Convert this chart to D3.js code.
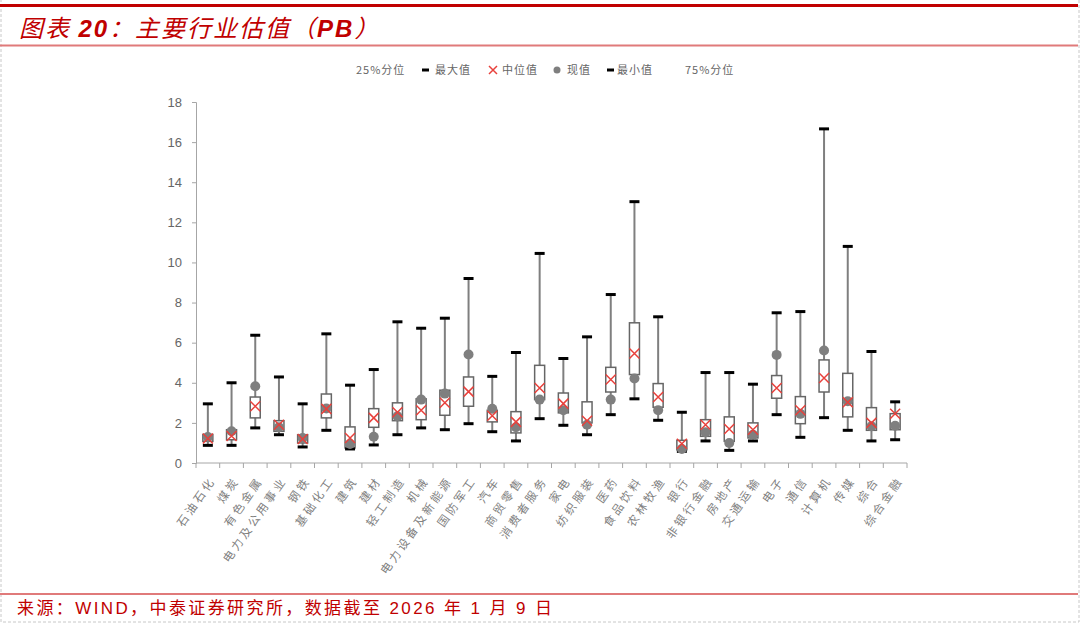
<!DOCTYPE html>
<html>
<head>
<meta charset="utf-8">
<script src="https://cdn.jsdelivr.net/npm/d3@7"></script>
<style>
    body { margin: 0; background: #fff; }
    svg { display: block; }
</style>
</head>
<body>
<svg id="drawing_region"></svg>
<script>
const categories = ['石油石化','煤炭','有色金属','电力及公用事业','钢铁','基础化工','建筑','建材','轻工制造','机械',
    '电力设备及新能源','国防军工','汽车','商贸零售','消费者服务','家电','纺织服装','医药','食品饮料','农林牧渔',
    '银行','非银行金融','房地产','交通运输','电子','通信','计算机','传媒','综合','综合金融'];

const maxVals     = [2.95, 4.00, 6.37, 4.29, 2.95, 6.44, 3.88, 4.66, 7.04, 6.72,
                     7.22, 9.20, 4.32, 5.51, 10.45, 5.21, 6.29, 8.40, 13.03, 7.29,
                     2.53, 4.51, 4.51, 3.93, 7.49, 7.55, 16.66, 10.80, 5.56, 3.05];
const q3Vals      = [1.42, 1.66, 3.29, 2.11, 1.41, 3.44, 1.80, 2.71, 3.00, 3.20,
                     3.63, 4.29, 2.63, 2.56, 4.87, 3.49, 3.05, 4.77, 6.99, 3.96,
                     1.13, 2.16, 2.30, 2.00, 4.36, 3.31, 5.14, 4.47, 2.76, 2.46];
const medianVals  = [1.22, 1.35, 2.83, 1.91, 1.20, 2.70, 1.25, 2.25, 2.53, 2.63,
                     3.00, 3.56, 2.36, 2.05, 3.74, 2.96, 2.11, 4.16, 5.46, 3.29,
                     0.96, 1.91, 1.70, 1.66, 3.74, 2.63, 4.24, 3.03, 2.00, 2.46];
const q1Vals      = [1.08, 1.16, 2.25, 1.58, 1.00, 2.25, 0.75, 1.78, 2.11, 2.16,
                     2.38, 2.83, 2.05, 1.50, 3.16, 2.50, 2.00, 3.54, 4.41, 2.78,
                     0.66, 1.33, 1.08, 1.25, 3.23, 1.96, 3.54, 2.30, 1.63, 1.66];
const minVals     = [0.88, 0.88, 1.75, 1.41, 0.80, 1.63, 0.70, 0.90, 1.41, 1.75,
                     1.66, 1.96, 1.56, 1.10, 2.21, 1.88, 1.41, 2.41, 3.20, 2.13,
                     0.58, 1.10, 0.63, 1.10, 2.41, 1.28, 2.26, 1.63, 1.10, 1.16];
const currentVals = [1.30, 1.58, 3.83, 1.78, 1.25, 2.72, 0.95, 1.31, 2.33, 3.16,
                     3.46, 5.41, 2.70, 1.78, 3.16, 2.63, 1.91, 3.16, 4.21, 2.63,
                     0.70, 1.53, 1.00, 1.41, 5.39, 2.45, 5.61, 3.08, 1.83, 1.86];

const yTicks = [0, 2, 4, 6, 8, 10, 12, 14, 16, 18];

const legendItems = ['25%分位', '最大值', '中位值', '现值', '最小值', '75%分位'];

// title pieces: [text, bold latin?]
const titleParts = [['图表 ', false], ['20', true], ['：主要行业估值（', false], ['PB', true], ['）', false]];
const source = '来源：WIND，中泰证券研究所，数据截至 2026 年 1 月 9 日';

const W = 1080, H = 625;
const margin = { top: 102, right: 173, bottom: 162, left: 196 };
const inner_width  = W - margin.left - margin.right;
const inner_height = H - margin.top - margin.bottom;

const data = categories.map( (c, i) => ({
    name: c, max: maxVals[i], q3: q3Vals[i], med: medianVals[i],
    q1: q1Vals[i], min: minVals[i], cur: currentVals[i]
}));

const svg = d3.select('#drawing_region')
    .attr('width', W)
    .attr('height', H);

// frame
svg.append('rect')
    .attr('x', 1).attr('y', -2)
    .attr('width', W - 2).attr('height', H - 1)
    .attr('fill', 'none')
    .attr('stroke', '#c8c8c8')
    .attr('stroke-dasharray', '3,2');

svg.append('line')
    .attr('x1', 0).attr('x2', W - 2).attr('y1', 5.5).attr('y2', 5.5)
    .attr('stroke', '#c00000').attr('stroke-width', 3);
svg.append('line')
    .attr('x1', 0).attr('x2', W - 2).attr('y1', 45.5).attr('y2', 45.5)
    .attr('stroke', '#e07a7a').attr('stroke-width', 2);
svg.append('line')
    .attr('x1', 0).attr('x2', W - 2).attr('y1', 594).attr('y2', 594)
    .attr('stroke', '#e07a7a').attr('stroke-width', 2);

const titleText = svg.append('text')
    .attr('x', 19).attr('y', 37)
    .attr('fill', '#c00000')
    .attr('font-style', 'italic')
    .attr('font-size', 24)
    .attr('letter-spacing', 2);
titleText.selectAll('tspan')
    .data( titleParts )
    .join('tspan')
    .attr('font-family', d => d[1] ? 'Arial, "Liberation Sans", sans-serif' : "'Noto Sans CJK SC', sans-serif")
    .attr('font-weight', d => d[1] ? 'bold' : 'normal')
    .text( d => d[0] );

svg.append('text')
    .attr('x', 17).attr('y', 614)
    .attr('fill', '#c00000')
    .attr('font-family', "Arial, 'Liberation Sans', 'Noto Sans CJK SC', sans-serif")
    .attr('font-size', 17)
    .attr('letter-spacing', 2.4)
    .text( source );

// chart
const chart = svg.append('g')
    .attr('transform', `translate(${margin.left}, ${margin.top})`);

const xscale = d3.scaleBand()
    .domain( categories )
    .range( [0, inner_width] );

const yscale = d3.scaleLinear()
    .domain( [0, 18] )
    .range( [inner_height, 0] );

const yaxis = d3.axisLeft( yscale )
    .tickValues( yTicks )
    .tickSize( 4 )
    .tickPadding( 10 );

const yaxis_group = chart.append('g').call( yaxis );
yaxis_group.selectAll('path, line').attr('stroke', '#a6a6a6');
yaxis_group.selectAll('text')
    .attr('fill', '#666')
    .attr('font-family', 'Arial, "Liberation Sans", sans-serif')
    .attr('font-size', 13);

// x axis: line with ticks at category boundaries
const xaxis_group = chart.append('g')
    .attr('transform', `translate(0, ${inner_height})`);
xaxis_group.append('line')
    .attr('x1', 0).attr('x2', inner_width)
    .attr('stroke', '#a6a6a6');
xaxis_group.selectAll('.bound')
    .data( categories.concat(['end']) )
    .join('line')
    .attr('x1', (d, i) => i * xscale.step())
    .attr('x2', (d, i) => i * xscale.step())
    .attr('y1', 0).attr('y2', 5)
    .attr('stroke', '#a6a6a6');

xaxis_group.selectAll('.lab')
    .data( categories )
    .join('text')
    .attr('transform', d => `translate(${xscale(d) + xscale.bandwidth() / 2 + 5}, 15) rotate(-55)`)
    .attr('text-anchor', 'end')
    .attr('dy', '0.35em')
    .attr('fill', '#808080')
    .attr('font-family', "'Noto Sans CJK SC', sans-serif")
    .attr('font-size', 11.5)
    .attr('letter-spacing', 3)
    .text( d => d );

// boxes
const bw = 10;
const cx = d => xscale(d.name) + xscale.bandwidth() / 2;

const g = chart.selectAll('.box')
    .data( data )
    .join('g')
    .attr('class', 'box');

g.append('line')
    .attr('x1', cx).attr('x2', cx)
    .attr('y1', d => yscale(d.max)).attr('y2', d => yscale(d.min))
    .attr('stroke', '#7f7f7f').attr('stroke-width', 2);

g.append('rect')
    .attr('x', d => cx(d) - bw / 2)
    .attr('y', d => yscale(d.q3))
    .attr('width', bw)
    .attr('height', d => yscale(d.q1) - yscale(d.q3))
    .attr('fill', '#fff')
    .attr('stroke', '#666')
    .attr('stroke-width', 1.5);

g.append('line')
    .attr('x1', d => cx(d) - 5).attr('x2', d => cx(d) + 5)
    .attr('y1', d => yscale(d.max)).attr('y2', d => yscale(d.max))
    .attr('stroke', '#000').attr('stroke-width', 3);
g.append('line')
    .attr('x1', d => cx(d) - 5).attr('x2', d => cx(d) + 5)
    .attr('y1', d => yscale(d.min)).attr('y2', d => yscale(d.min))
    .attr('stroke', '#000').attr('stroke-width', 3);

g.append('circle')
    .attr('cx', cx)
    .attr('cy', d => yscale(d.cur))
    .attr('r', 5)
    .attr('fill', '#7f7f7f');

const xs = 5;
g.append('path')
    .attr('d', d => {
        const x = cx(d), y = yscale(d.med);
        return `M${x - xs},${y - xs}L${x + xs},${y + xs}M${x - xs},${y + xs}L${x + xs},${y - xs}`;
    })
    .attr('stroke', '#e8413c').attr('stroke-width', 1.5).attr('fill', 'none');

// legend
const legend = svg.append('g')
    .attr('font-family', "'Noto Sans CJK SC', sans-serif")
    .attr('font-size', 11)
    .attr('fill', '#666');
const legX = [356, 435, 502, 567, 617, 685];
legend.selectAll('text')
    .data( legendItems )
    .join('text')
    .attr('x', (d, i) => legX[i])
    .attr('y', 70)
    .attr('dy', '0.35em')
    .attr('letter-spacing', 1)
    .text( d => d );
legend.append('line')
    .attr('x1', 422).attr('x2', 429).attr('y1', 70).attr('y2', 70)
    .attr('stroke', '#000').attr('stroke-width', 3);
legend.append('line')
    .attr('x1', 607).attr('x2', 614).attr('y1', 70).attr('y2', 70)
    .attr('stroke', '#000').attr('stroke-width', 3);
legend.append('path')
    .attr('d', 'M489,66L497,74M489,74L497,66')
    .attr('stroke', '#e8413c').attr('stroke-width', 1.5);
legend.append('circle')
    .attr('cx', 557).attr('cy', 70).attr('r', 3.5)
    .attr('fill', '#7f7f7f');
</script>
</body>
</html>
